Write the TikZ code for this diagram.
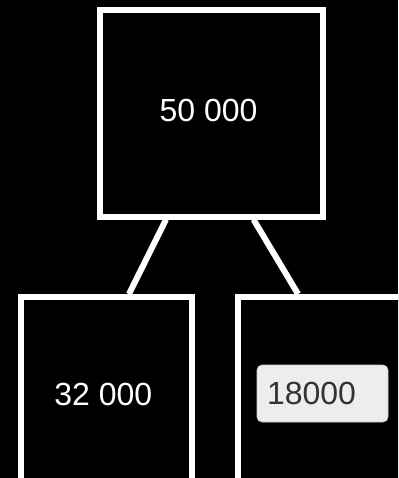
\documentclass[tikz,border=0pt]{standalone}
\usepackage{fontspec}
\setmainfont{Liberation Sans}
\usetikzlibrary{calc}
\begin{document}
\begin{tikzpicture}[x=1pt,y=-1pt,
  valbox/.style={draw=white,line width=6pt,fill=black,text=white,
    inner sep=0pt,font=\fontsize{32}{36}\selectfont},
  conn/.style={draw=white,line width=6pt},
  editbox/.style={draw=black!20,line width=0.6pt,fill=black!7,rounded corners=5pt,
    text=black!80,font=\fontsize{32}{36}\selectfont,minimum width=131pt,
    minimum height=57pt,inner sep=0pt,text width=111pt,align=left}]
\fill[black] (0,0) rectangle (398,478);
\useasboundingbox (0,0) rectangle (398,478);
\clip (0,0) rectangle (398,478);
\node[valbox,minimum width=223pt,minimum height=206.5pt] (top) at (211.5,113.25) {\raisebox{5pt}{50 000}\hspace*{6pt}};
\node[valbox,minimum width=171.5pt,minimum height=195pt] (l) at (106.25,394.5) {\hspace*{-6pt}32 000};
\node[valbox,minimum width=171.5pt,minimum height=195pt] (r) at (323.75,394.5) {};
\node[editbox] (e) at (322.5,393.5) {18000};
\draw[conn] ($(top.south)+(-45.5,0)$) -- ($(l.north)+(22.75,0)$);
\draw[conn] ($(top.south)+(42,0)$) -- ($(r.north)+(-25.75,0)$);
\end{tikzpicture}
\end{document}
